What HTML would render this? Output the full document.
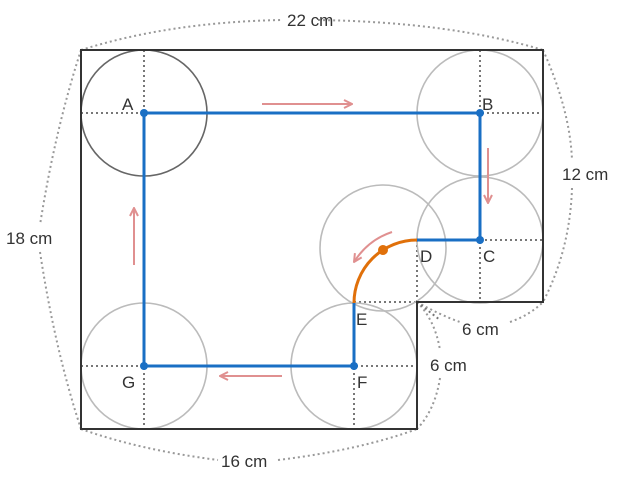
<!DOCTYPE html>
<html><head><style>body{margin:0;background:#fff}svg{display:block}</style></head><body>
<svg width="623" height="477" viewBox="0 0 623 477" font-family="Liberation Sans, sans-serif">
<defs><marker id="ar" markerWidth="10" markerHeight="10" refX="9" refY="5" orient="auto" markerUnits="userSpaceOnUse"><path d="M1,1 L9,5 L1,9" fill="none" stroke="#e09090" stroke-width="2"/></marker></defs>
<g fill="none" stroke="#999" stroke-width="2" stroke-dasharray="2,3">
<path d="M81,50 Q170,22 282,20"/><path d="M318,20 Q450,22 543,50"/>
<path d="M81,50 Q55,130 40,225"/><path d="M40,252 Q55,350 81,429"/>
<path d="M543,50 Q570,110 572,160"/><path d="M572,188 Q570,250 543,302"/>
<path d="M417,302 Q440,315 460,322"/><path d="M510,322 Q530,315 543,302"/>
<path d="M417,302 Q435,320 440,350"/><path d="M440,378 Q435,410 417,429"/>
<path d="M81,429 Q140,450 218,460"/><path d="M278,460 Q360,450 417,429"/>
</g>
<g fill="none" stroke="#777" stroke-width="2" stroke-dasharray="2,3">
<path d="M81,113H207M144,50V176"/><path d="M417,113H543M480,50V176"/>
<path d="M480,240H543M480,177V302"/>
<path d="M81,366H207M144,303V429"/><path d="M291,366H417M354,303V429"/>
<path d="M354,302H417M417,240V302"/>
<path d="M417,302L440,320"/>
</g>
<g fill="none" stroke="#bbb" stroke-width="1.6">
<circle cx="480" cy="113" r="63"/><circle cx="480" cy="240" r="63"/><circle cx="383" cy="248" r="63"/>
<circle cx="144" cy="366" r="63"/><circle cx="354" cy="366" r="63"/>
</g>
<circle cx="144" cy="113" r="63" fill="none" stroke="#666" stroke-width="1.6"/>
<path d="M81,50H543V302H417V429H81Z" fill="none" stroke="#333" stroke-width="2"/>
<path d="M417,240H480V113H144V366H354V302" fill="none" stroke="#1a6fc4" stroke-width="3"/>
<path d="M417,240A63,63 0 0 0 354,303" fill="none" stroke="#e0700a" stroke-width="3"/>
<g fill="#1a6fc4"><circle cx="144" cy="113" r="4"/><circle cx="480" cy="113" r="4"/><circle cx="480" cy="240" r="4"/><circle cx="144" cy="366" r="4"/><circle cx="354" cy="366" r="4"/></g>
<circle cx="383" cy="250" r="5" fill="#e0700a"/>
<g stroke="#e09090" stroke-width="2" fill="none" marker-end="url(#ar)">
<path d="M262,104H352"/><path d="M488,148V203"/><path d="M282,376H220"/><path d="M134,265V208"/>
<path d="M392,232Q368,240 354,262"/>
</g>
<g font-size="17" fill="#333">
<text x="122" y="110">A</text><text x="482" y="110">B</text><text x="483" y="262">C</text><text x="420" y="262">D</text>
<text x="356" y="325">E</text><text x="357" y="388">F</text><text x="122" y="388">G</text>
<text x="287" y="26">22 cm</text><text x="6" y="244">18 cm</text><text x="562" y="180">12 cm</text>
<text x="462" y="335">6 cm</text><text x="430" y="371">6 cm</text><text x="221" y="467">16 cm</text>
</g>
</svg>
</body></html>
